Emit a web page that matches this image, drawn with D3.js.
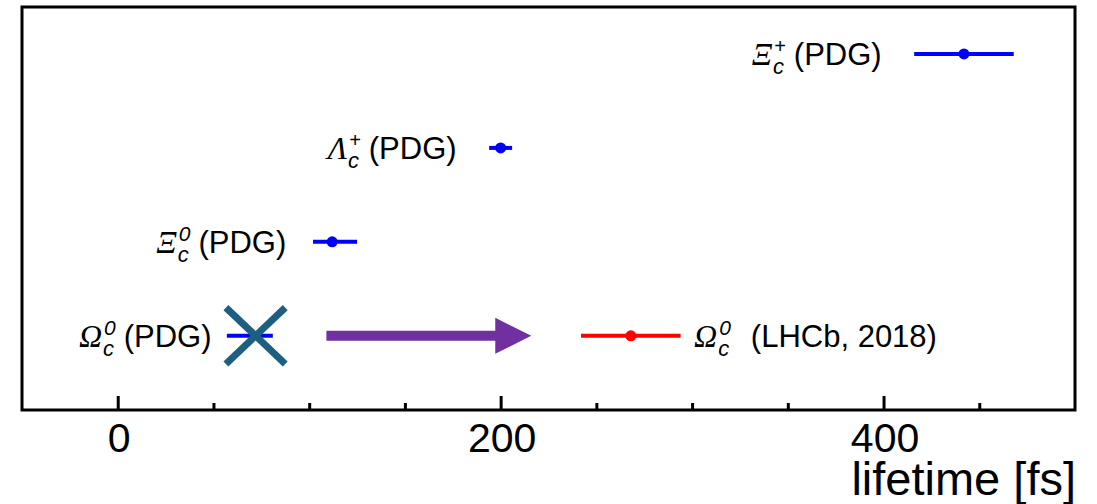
<!DOCTYPE html>
<html><head><meta charset="utf-8">
<script src="https://cdn.jsdelivr.net/npm/d3@7"></script>
<style>body{margin:0;background:#fff}svg{display:block}</style>
</head><body>
<svg id="chart" width="1097" height="504"></svg>
<script>
// ---- data ----
const symbols   = ["Ξ", "Λ", "Ξ", "Ω"];
const charges   = ["+", "+", "0", "0"];
const sources   = ["(PDG)", "(PDG)", "(PDG)", "(PDG)"];
const lifetimes = [442, 200, 112, 69];
const errLow    = [26, 6, 10, 12];
const errHigh   = [26, 6, 13, 12];
const rows      = [4, 3, 2, 1];
const labelEnd  = [399, 177, 88, 49];      // fs position where each label ends
const showDot   = [true, true, true, false];

const lhcbSymbol = "Ω", lhcbCharge = "0", lhcbSource = "(LHCb, 2018)";
const lhcbValue = 268, lhcbErr = 26, lhcbRow = 1, lhcbLabelStart = 301;

const arrowFrom = 109, arrowTo = 216, arrowRow = 1;
const crossCenter = 72, crossHalfX = 15.5, crossHalfY = 0.30, crossRow = 1;

const xDomain = [-50, 500];
const yDomain = [0.21, 4.5];
const majorTicks = [0, 200, 400];
const minorTicks = [50, 100, 150, 250, 300, 350, 450];
const xTitle = "lifetime [fs]";

// ---- layout ----
const svg = d3.select("#chart");
const L = 22, R = 1075, T = 7, B = 410;
const x = d3.scaleLinear().domain(xDomain).range([L, R]);
const y = d3.scaleLinear().domain(yDomain).range([B, T]);

// minor ticks
const minorAxis = d3.axisBottom(x).tickValues(minorTicks).tickSize(-7).tickFormat("");
const gMin = svg.append("g").attr("transform", `translate(0,${B})`).call(minorAxis);
gMin.select(".domain").remove();
gMin.selectAll("line").attr("stroke", "#000").attr("stroke-width", 3);

// major ticks
const majorAxis = d3.axisBottom(x).tickValues(majorTicks).tickSize(-14).tickPadding(0).tickFormat(d3.format("d"));
const gMaj = svg.append("g").attr("transform", `translate(0,${B})`).call(majorAxis);
gMaj.select(".domain").remove();
gMaj.selectAll("line").attr("stroke", "#000").attr("stroke-width", 3);
gMaj.selectAll("text")
  .attr("y", 0).attr("dy", null)
  .attr("transform", "translate(1,42)")
  .attr("font-family", "Liberation Sans, Arial, sans-serif")
  .attr("font-size", 41).attr("fill", "#000");

// frame
svg.append("rect").attr("x", L).attr("y", T).attr("width", R - L).attr("height", B - T)
  .attr("fill", "none").attr("stroke", "#000").attr("stroke-width", 3);

// axis title
svg.append("text").attr("x", R + 1).attr("y", 495).attr("text-anchor", "end")
  .attr("font-family", "Liberation Sans, Arial, sans-serif").attr("font-size", 47)
  .text(xTitle);

// error bars
function errBar(val, lo, hi, row, color, dot) {
  svg.append("line").attr("x1", x(val - lo)).attr("x2", x(val + hi))
    .attr("y1", y(row)).attr("y2", y(row)).attr("stroke", color).attr("stroke-width", 4);
  if (dot) svg.append("circle").attr("cx", x(val)).attr("cy", y(row)).attr("r", 5.5).attr("fill", color);
}
lifetimes.forEach((v, i) => errBar(v, errLow[i], errHigh[i], rows[i], "#0000ff", showDot[i]));
errBar(lhcbValue, lhcbErr, lhcbErr, lhcbRow, "#ff0000", true);

// labels
function label(xPos, row, sym, charge, rest, anchorEnd, gap) {
  const g = svg.append("g");
  let cur = 0;
  const s = g.append("text").attr("x", cur).attr("y", 11)
    .attr("font-family", "Liberation Serif, Times New Roman, serif").attr("font-style", "italic")
    .attr("font-size", 32).text(sym);
  cur += s.node().getComputedTextLength() + 1;
  const sub = g.append("text").attr("x", cur).attr("y", 20)
    .attr("font-family", "Liberation Sans, Arial, sans-serif").attr("font-style", "italic")
    .attr("font-size", 22).text("c");
  const sup = g.append("text").attr("x", cur + 1).attr("y", -1)
    .attr("font-family", "Liberation Sans, Arial, sans-serif").attr("font-style", "italic")
    .attr("font-size", charge === "+" ? 20 : 21).text(charge);
  cur += Math.max(sub.node().getComputedTextLength(), sup.node().getComputedTextLength() + 1) + gap;
  const r = g.append("text").attr("x", cur).attr("y", 11)
    .attr("font-family", "Liberation Sans, Arial, sans-serif")
    .attr("font-size", 31).text(rest);
  cur += r.node().getComputedTextLength();
  const tx = anchorEnd ? x(xPos) - cur : x(xPos);
  g.attr("transform", `translate(${tx},${y(row)})`);
}
symbols.forEach((s, i) => label(labelEnd[i], rows[i], s, charges[i], sources[i], true, 8));
label(lhcbLabelStart, lhcbRow, lhcbSymbol, lhcbCharge, lhcbSource, false, 20);

// cross over the old PDG value
const cx0 = x(crossCenter - crossHalfX), cx1 = x(crossCenter + crossHalfX);
const cy0 = y(crossRow + crossHalfY), cy1 = y(crossRow - crossHalfY);
[[cx0, cy0, cx1, cy1], [cx1, cy0, cx0, cy1]].forEach(c =>
  svg.append("line").attr("x1", c[0]).attr("y1", c[1]).attr("x2", c[2]).attr("y2", c[3])
    .attr("stroke", "#1c5f7f").attr("stroke-width", 7));

// arrow
const ay = y(arrowRow), ax0 = x(arrowFrom), ax1 = x(arrowTo);
const headLen = 36, headHalf = 18, shaftHalf = 5;
svg.append("path")
  .attr("d", `M${ax0},${ay - shaftHalf} L${ax1 - headLen},${ay - shaftHalf} L${ax1 - headLen},${ay - headHalf} L${ax1},${ay} L${ax1 - headLen},${ay + headHalf} L${ax1 - headLen},${ay + shaftHalf} L${ax0},${ay + shaftHalf} Z`)
  .attr("fill", "#7030a0");
</script>
</body></html>
